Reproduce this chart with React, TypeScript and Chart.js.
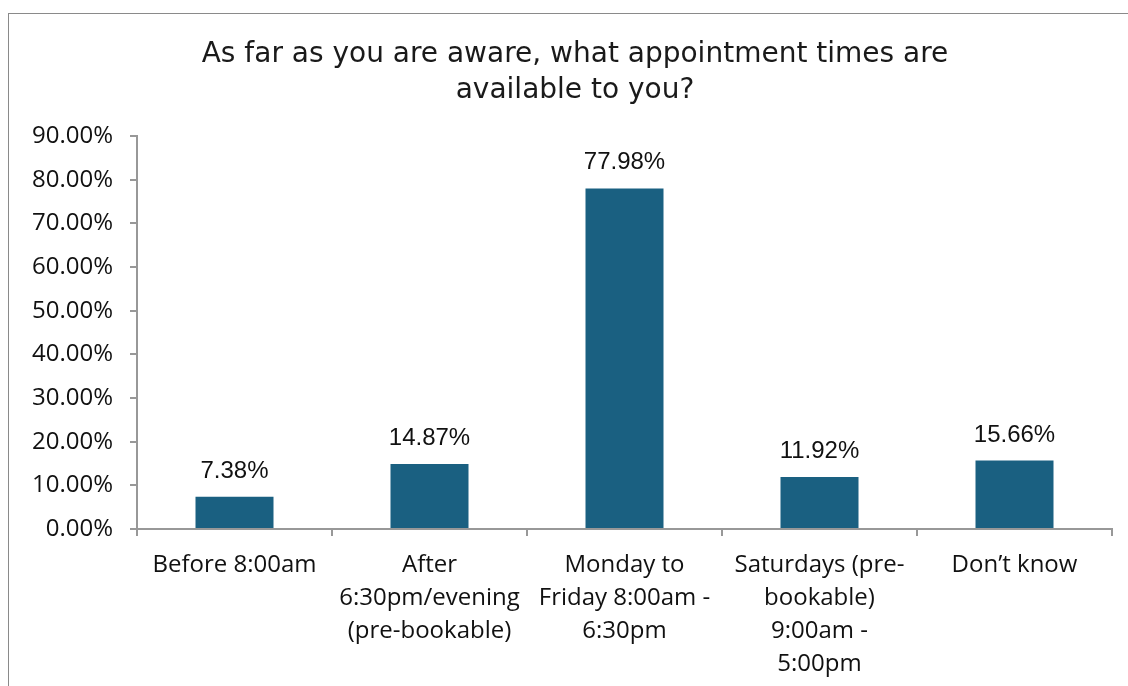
import React, { useEffect, useRef } from "react";
import { Chart, registerables } from "chart.js";

Chart.register(...registerables);

const categories: (string | string[])[] = [
  "Before 8:00am",
  ["After", "6:30pm/evening", "(pre-bookable)"],
  ["Monday to", "Friday 8:00am -", "6:30pm"],
  ["Saturdays (pre-", "bookable)", "9:00am -", "5:00pm"],
  "Don\u2019t know",
];
const values: number[] = [7.38, 14.87, 77.98, 11.92, 15.66];
const titleLines: string[] = [
  "As far as you are aware, what appointment times are",
  "available to you?",
];
const yMax = 90;
const yStep = 10;

const BAR_COLOR = "#1A6081";
const AXIS_COLOR = "#989898";
const TITLE_FONT = "28px 'DejaVu Sans', sans-serif";
const TITLE_LINE = 36;

const valueLabels = {
  id: "valueLabels",
  afterDatasetsDraw(chart: any) {
    const ctx = chart.ctx;
    const meta = chart.getDatasetMeta(0);
    ctx.save();
    ctx.font = "24px 'Liberation Sans', Arial, sans-serif";
    ctx.fillStyle = "#111";
    ctx.textAlign = "center";
    ctx.textBaseline = "alphabetic";
    meta.data.forEach((bar: any, i: number) => {
      ctx.fillText(values[i].toFixed(2) + "%", bar.x, bar.y - 19);
    });
    ctx.restore();
  },
};

const centeredTitle = {
  id: "centeredTitle",
  afterDraw(chart: any) {
    const ctx = chart.ctx;
    ctx.save();
    ctx.font = TITLE_FONT;
    ctx.fillStyle = "#1a1a1a";
    ctx.textAlign = "center";
    ctx.textBaseline = "middle";
    titleLines.forEach((line, i) => {
      ctx.fillText(line, 566, 41 + i * TITLE_LINE);
    });
    ctx.restore();
  },
};

export default function App() {
  const ref = useRef<HTMLCanvasElement>(null);
  useEffect(() => {
    if (!ref.current) return;
    const chart = new Chart(ref.current, {
      type: "bar",
      data: {
        labels: categories,
        datasets: [
          {
            data: values,
            backgroundColor: BAR_COLOR,
            barPercentage: 0.4,
            categoryPercentage: 1,
          },
        ],
      },
      options: {
        animation: false,
        responsive: false,
        maintainAspectRatio: false,
        layout: { padding: { left: 0, right: 29, top: 0, bottom: 0 } },
        plugins: {
          legend: { display: false },
          tooltip: { enabled: false },
          title: {
            display: true,
            text: titleLines,
            color: "rgba(0,0,0,0)",
            font: { family: "'DejaVu Sans', sans-serif", size: 28, weight: "normal", lineHeight: TITLE_LINE / 28 },
            padding: { top: 21, bottom: 29 },
          },
        },
        scales: {
          x: {
            offset: true,
            grid: {
              display: true,
              offset: true,
              drawOnChartArea: false,
              drawTicks: true,
              tickLength: 7,
              color: AXIS_COLOR,
              tickColor: AXIS_COLOR,
              lineWidth: 2,
            },
            border: { display: true, color: AXIS_COLOR, width: 2 },
            ticks: {
              color: "#111",
              font: { family: "'Open Sans', sans-serif", size: 24, lineHeight: 33 / 24 },
              padding: 13,
              maxRotation: 0,
              minRotation: 0,
              autoSkip: false,
            },
            afterFit(scale: any) {
              scale.height = 157;
            },
          },
          y: {
            min: 0,
            max: yMax,
            grid: {
              display: true,
              drawOnChartArea: false,
              drawTicks: true,
              tickLength: 7,
              color: AXIS_COLOR,
              tickColor: AXIS_COLOR,
              lineWidth: 2,
            },
            border: { display: true, color: AXIS_COLOR, width: 2 },
            ticks: {
              stepSize: yStep,
              color: "#111",
              font: { family: "'Open Sans', sans-serif", size: 24 },
              padding: 17,
              callback: (v: any) => Number(v).toFixed(2) + "%",
            },
            afterFit(scale: any) {
              scale.width = 128;
            },
          },
        },
      },
      plugins: [valueLabels, centeredTitle],
    });
    return () => chart.destroy();
  }, []);

  return (
    <div
      style={{
        position: "fixed",
        left: 8,
        top: 13,
        width: 1140,
        height: 690,
        border: "1px solid #8a8a8a",
        overflow: "hidden",
        background: "#fff",
      }}
    >
      <canvas ref={ref} width={1132} height={672} style={{ display: "block" }} />
    </div>
  );
}
